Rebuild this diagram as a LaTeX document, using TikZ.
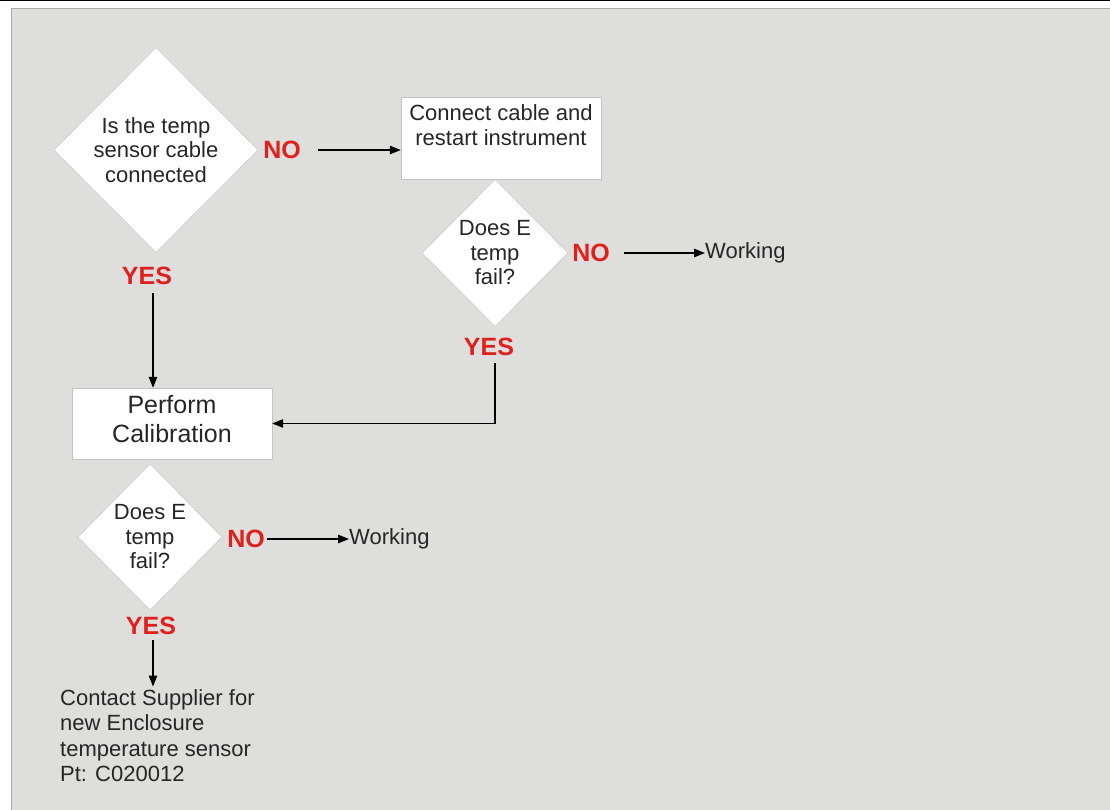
\documentclass[tikz,border=0pt]{standalone}
\usepackage{fontspec}
\setmainfont{Liberation Sans}
\usepackage{xcolor}
\usepackage{tikz}
\usetikzlibrary{arrows.meta,calc,positioning,shapes.geometric}
\definecolor{panelgrey}{RGB}{222,222,220}
\definecolor{paneledge}{RGB}{168,168,168}
\definecolor{shapeedge}{RGB}{196,196,196}
\definecolor{inkgrey}{RGB}{38,38,38}
\definecolor{answerred}{RGB}{224,32,28}
\tikzset{
  decision/.style={diamond,draw=shapeedge,fill=white,inner sep=0pt,
    align=center,text=inkgrey,font=\fontsize{22}{24.5}\selectfont},
  stepbox/.style={rectangle,draw=shapeedge,fill=white,inner sep=0pt,
    align=center,text=inkgrey,minimum width=200pt},
  answer/.style={inner sep=0pt,text=answerred,
    font=\fontsize{25}{30}\selectfont\bfseries},
  outcome/.style={inner sep=0pt,text=inkgrey,align=left,
    font=\fontsize{22}{25.3}\selectfont},
  flow/.style={-{Triangle[length=11pt,width=8.5pt]},line width=1.2pt,draw=black}
}

\begin{document}
\begin{tikzpicture}[x=1pt,y=-1pt]
  % panel and frame
  \useasboundingbox (0,0) rectangle (1110,810);
  \fill[white] (0,0) rectangle (1110,810);
  \draw[black,line width=1.4pt] (0,0.7) -- (1110,0.7);
  \draw[paneledge,fill=panelgrey,line width=1pt] (11.5,8.5) rectangle (1114,814);

  % top row
  \node[decision,minimum width=204pt,minimum height=205pt] (cable) at (156,150)
    {Is the temp\\sensor cable\\connected};
  \node[answer] (cableno) at (282,150) {NO};
  \node[stepbox,minimum height=82pt,font=\fontsize{22}{25}\selectfont] (reconnect)
    at (501,138) {Connect cable and\\restart instrument\\[-6pt]\strut};
  \node[decision,minimum width=146pt,minimum height=147pt] (failone) at (495,253)
    {Does E\\temp\\fail?};
  \node[answer] (failoneno) at (591,253) {NO};
  \node[outcome,anchor=west] (workone) at (705,253) {Working};
  \node[answer] (failoneyes) at (489,347) {YES};
  \node[answer] (cableyes) at (147,276) {YES};

  % calibration branch
  \node[stepbox,minimum height=71pt,font=\fontsize{25}{29}\selectfont] (calib)
    at (172,423.5) {Perform\\Calibration\\[-29pt]\strut};
  \node[decision,minimum width=144pt,minimum height=146pt] (failtwo) at (150,537)
    {Does E\\temp\\fail?};
  \node[answer] (failtwono) at (246,539) {NO};
  \node[outcome,anchor=west] (worktwo) at (349,539) {Working};
  \node[answer] (failtwoyes) at (151,626) {YES};
  \node[outcome,anchor=north west] (supplier) at (60,689.5)
    {Contact Supplier for\\new Enclosure\\temperature sensor\\Pt: C020012};

  % connectors
  \draw[flow,shorten <=17pt] (cableno.east) -- (cableno.east -| reconnect.west);
  \draw[flow,shorten <=14pt] (failoneno) -- (workone);
  \draw[flow] ([yshift=-7pt]failoneyes.south -| failone.south) |- (calib.east);
  \draw[flow] ([xshift=6pt,yshift=-8pt]cableyes.south)
    -- ([xshift=6pt]cableyes.south |- calib.north);
  \draw[flow,shorten <=2pt] (failtwono) -- (worktwo);
  \draw[flow] ([xshift=2pt,yshift=-5pt]failtwoyes.south)
    -- ([xshift=2pt,yshift=3pt]failtwoyes.south |- supplier.north);
\end{tikzpicture}
\end{document}
